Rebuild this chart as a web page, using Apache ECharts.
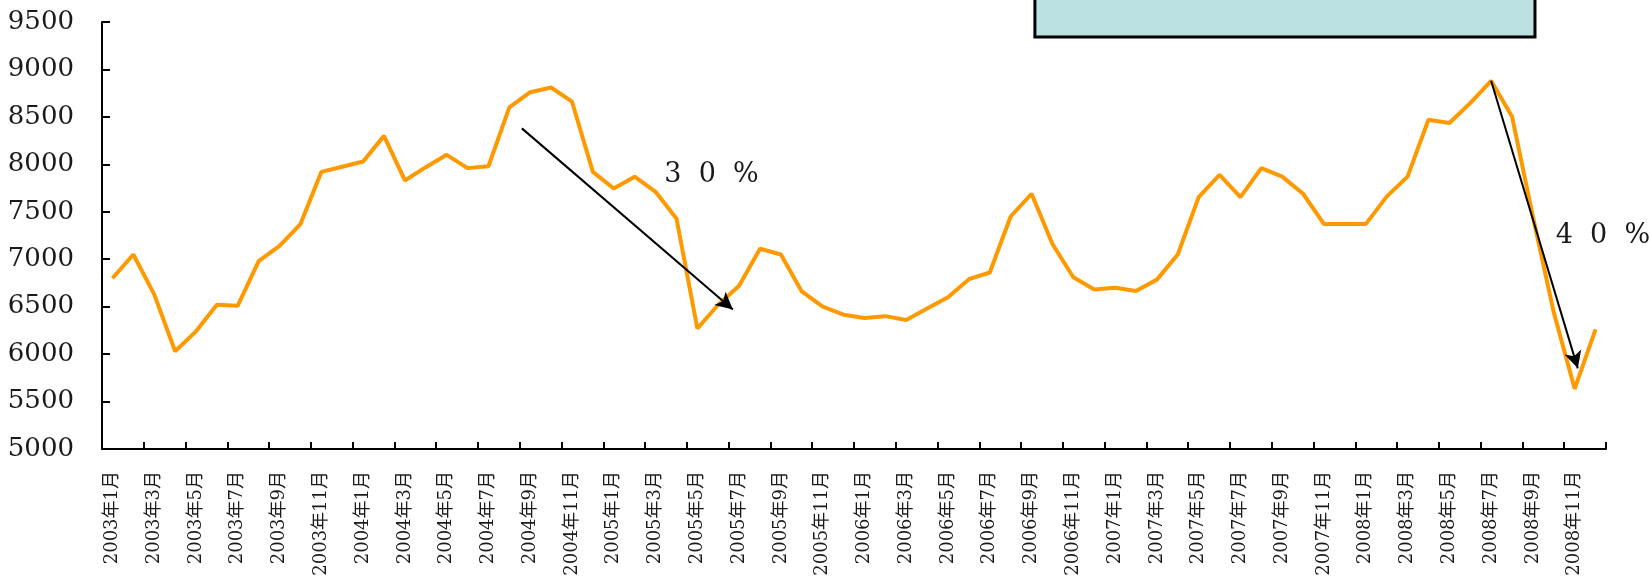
<!DOCTYPE html>
<html>
<head>
<meta charset="utf-8">
<script src="https://cdn.jsdelivr.net/npm/echarts@6/dist/echarts.min.js"></script>
<style>
html,body{margin:0;padding:0;background:#fff;}
#chart{width:1650px;height:582px;}
</style>
</head>
<body>
<div id="chart"></div>
<script>
// ---- data ----
const years = [2003, 2004, 2005, 2006, 2007, 2008];
const categories = [];
years.forEach(y => { for (let m = 1; m <= 12; m++) categories.push(y + '年' + m + '月'); });

const values = [
  6800, 7050, 6630, 6030, 6240, 6520, 6510, 6980, 7140, 7370, 7920, 7975,
  8030, 8300, 7830, 7970, 8100, 7960, 7980, 8600, 8760, 8810, 8660, 7920,
  7745, 7870, 7710, 7430, 6270, 6520, 6720, 7110, 7050, 6660, 6500, 6415,
  6380, 6400, 6360, 6480, 6600, 6790, 6860, 7450, 7690, 7160, 6810, 6680,
  6700, 6665, 6785, 7050, 7655, 7890, 7655, 7960, 7870, 7690, 7370, 7370,
  7370, 7660, 7870, 8470, 8435, 8645, 8880, 8505, 7450, 6440, 5635, 6260
];

const yMin = 5000, yMax = 9500, yStep = 500;

// annotation arrows: [startIndex, startValue, endIndex, endValue]
const arrows = [
  [19.6, 8379, 29.7, 6471],
  [66, 8880, 70.15, 5850]
];
// annotation texts: [index, value, text]
const notes = [
  [28.68, 7890, '3  0  %'],
  [71.35, 7245, '4  0  %']
];
// decorative box (index range / value bottom, top)
const box = [44.16, 68.1, 9342, 9900];

const chart = echarts.init(document.getElementById('chart'));
const serif = '"DejaVu Serif", "Liberation Serif", serif';

chart.setOption({
  animation: false,
  backgroundColor: '#fff',
  grid: { left: 102, top: 22, right: 44, bottom: 133, containLabel: false },
  xAxis: [{
    type: 'category',
    data: categories,
    boundaryGap: true,
    axisLine: { onZero: false, lineStyle: { color: '#000', width: 2 } },
    axisTick: { show: true, inside: true, interval: 1, length: 7, lineStyle: { color: '#000', width: 2 } },
    axisLabel: {
      interval: 1, rotate: 90, margin: 22,
      fontFamily: '"DejaVu Serif", "Noto Sans CJK SC", serif',
      fontSize: 18, color: '#1a1a1a',
      padding: [0, 0, 14, 0]
    },
    splitLine: { show: false }
  }, {
    type: 'value',
    min: -0.5, max: 71.5,
    show: false,
    position: 'bottom'
  }],
  yAxis: {
    type: 'value',
    min: yMin, max: yMax, interval: yStep,
    axisLine: { show: true, onZero: false, lineStyle: { color: '#000', width: 2 } },
    axisTick: { show: true, inside: true, length: 8, lineStyle: { color: '#000', width: 2 } },
    axisLabel: { fontFamily: serif, fontSize: 26, color: '#1a1a1a', margin: 28, formatter: v => String(v) },
    splitLine: { show: false }
  },
  series: [{
    type: 'line',
    data: values,
    xAxisIndex: 0,
    symbol: 'none',
    lineStyle: { color: '#FF9900', width: 4 },
    z: 2
  }, {
    type: 'line',
    xAxisIndex: 1,
    yAxisIndex: 0,
    data: [],
    symbol: 'none',
    z: 3,
    markLine: {
      silent: true,
      symbol: ['none', 'arrow'],
      symbolSize: [13, 17],
      lineStyle: { color: '#000', width: 2, type: 'solid' },
      label: { show: false },
      data: arrows.map(a => [{ coord: [a[0], a[1]] }, { coord: [a[2], a[3]] }])
    },
    markPoint: {
      silent: true,
      symbol: 'circle',
      symbolSize: 1,
      itemStyle: { color: 'rgba(0,0,0,0)' },
      label: {
        show: true, position: 'inside',
        fontFamily: serif, fontSize: 27, color: '#1a1a1a',
        formatter: p => p.name
      },
      data: notes.map(n => ({ coord: [n[0], n[1]], name: n[2], value: n[2] }))
    }
  }]
});

// decorative box placed via the chart's own scales
const p1 = chart.convertToPixel({ xAxisIndex: 1, yAxisIndex: 0 }, [box[0], box[2]]);
const p2 = chart.convertToPixel({ xAxisIndex: 1, yAxisIndex: 0 }, [box[1], box[3]]);
chart.setOption({
  graphic: [{
    type: 'rect',
    shape: { x: p1[0], y: p2[1], width: p2[0] - p1[0], height: p1[1] - p2[1] },
    style: { fill: '#BAE0E2', stroke: '#000', lineWidth: 3 },
    z: 10
  }]
});
</script>
</body>
</html>
